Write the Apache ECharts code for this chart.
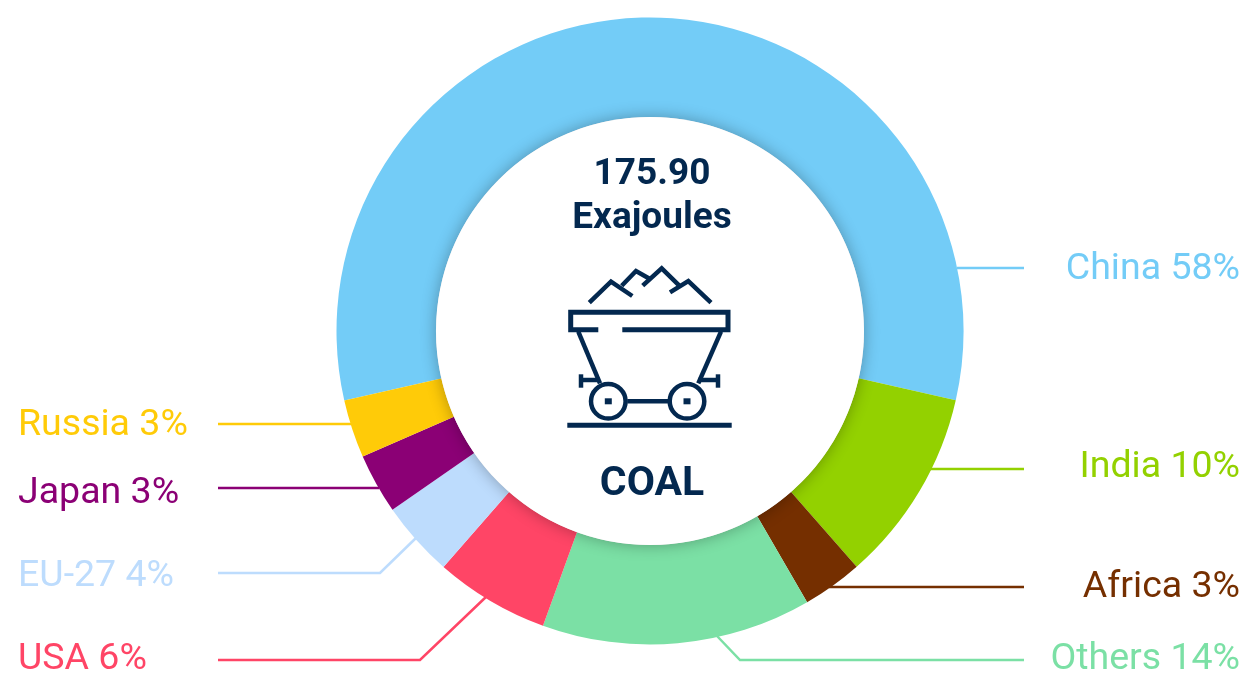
<!DOCTYPE html>
<html>
<head>
<meta charset="utf-8">
<title>Coal</title>
<script src="https://cdn.jsdelivr.net/npm/echarts@6/dist/echarts.min.js"></script>
<style>
  html, body { margin: 0; padding: 0; background: #fff; }
  #chart { width: 1246px; height: 674px; }
</style>
</head>
<body>
<div id="chart"></div>
<script>
var categories = ["China", "India", "Africa", "Others", "USA", "EU-27", "Japan", "Russia"];
var sliceValues = [57.1, 10, 3.1, 13.9, 5.9, 3.9, 3.1, 3];
var printedPercents = [58, 10, 3, 14, 6, 4, 3, 3];
var colors = ["#73ccf7", "#93d100", "#752f00", "#7be0a5", "#ff4566", "#bddcfd", "#8b0075", "#ffcb08"];
var totalText = "175.90";
var unitText = "Exajoules";
var fuelText = "COAL";

// label anchors, same order as categories
var labelX = [1240, 1240, 1240, 1240, 18, 18, 18, 18];
var labelY = [270, 468, 588, 660, 660, 577, 494, 426];
var leaderLines = [
  [[957, 268], [1024, 268]],
  [[930, 469], [1024, 469]],
  [[829, 587], [1024, 587]],
  [[717, 636], [740, 660], [1024, 660]],
  [[487, 596], [420, 660], [218, 660]],
  [[417, 537], [380, 573], [218, 573]],
  [[379, 488], [218, 488]],
  [[351, 424], [218, 424]],
];

var navy = "#03284f";
var FONT = "Roboto, sans-serif";
var TOP_Z = 10; // above the hub series

// mine cart icon
function iconLine(points, width) {
  return {
    type: "polyline",
    silent: true,
    z: TOP_Z,
    shape: { points: points },
    style: { fill: null, stroke: navy, lineWidth: width || 4.5 },
  };
}
function iconWheel(cx, cy) {
  return [
    {
      type: "circle",
      silent: true,
      z: TOP_Z,
      shape: { cx: cx, cy: cy, r: 17.3 },
      style: { fill: null, stroke: navy, lineWidth: 4.5 },
    },
    {
      type: "rect",
      silent: true,
      z: TOP_Z,
      shape: { x: cx - 3.5, y: cy - 3, width: 7, height: 6 },
      style: { fill: navy },
    },
  ];
}
var iconParts = [
  iconLine([[589.3, 302.7], [611, 281.7], [632.3, 296]]),
  iconLine([[621.7, 285.7], [636, 271], [650, 279]]),
  iconLine([[642.7, 285.7], [661.7, 268.3], [679.3, 285.7]]),
  iconLine([[670, 292.3], [688.3, 281], [711, 302.7]]),
  iconLine([[598.3, 329.7], [570.7, 329.7], [570.7, 312.3], [728, 312.3], [728, 329.7], [622.3, 329.7]], 5),
  iconLine([[578.3, 331.7], [600, 383.3]]),
  iconLine([[721, 331.7], [698.3, 383.3]]),
  iconLine([[581.7, 380], [600, 380]]),
  iconLine([[698.3, 380], [718.3, 380]]),
  iconLine([[581, 374.3], [581, 387.7]]),
  iconLine([[718, 374.3], [718, 387.7]]),
  iconLine([[627.3, 401.3], [668.3, 401.3]]),
  iconLine([[567.3, 425.3], [731.7, 425.3]], 5),
].concat(iconWheel(608.3, 401.3), iconWheel(687, 401.3));

function centerText(text, y, size) {
  return {
    type: "text",
    silent: true,
    z: TOP_Z,
    x: 652,
    y: y,
    style: {
      text: text,
      fill: navy,
      font: "700 " + size + "px " + FONT,
      align: "center",
      verticalAlign: "middle",
    },
  };
}

var chart = echarts.init(document.getElementById("chart"));
chart.setOption({
  animation: false,
  backgroundColor: "#fff",
  color: colors,
  tooltip: { show: false },
  series: [
    {
      type: "pie",
      center: [650, 331],
      radius: [214, 313.5],
      startAngle: 192.8,
      clockwise: true,
      silent: true,
      z: 2,
      data: categories.map(function (name, i) {
        return { name: name, value: sliceValues[i] };
      }),
      label: {
        show: true,
        color: "inherit",
        fontFamily: FONT,
        fontSize: 37.5,
        fontWeight: 400,
        formatter: function (p) {
          return p.name + " " + printedPercents[p.dataIndex] + "%";
        },
      },
      labelLine: { show: true, lineStyle: { width: 2.5 } },
      labelLayout: function (p) {
        var i = p.dataIndex;
        return {
          x: labelX[i],
          y: labelY[i],
          align: i < 4 ? "right" : "left",
          verticalAlign: "middle",
          labelLinePoints: leaderLines[i],
        };
      },
    },
    {
      // white hub, its shadow falls on the ring
      type: "pie",
      center: [650, 331],
      radius: [0, 214],
      silent: true,
      z: 3,
      label: { show: false },
      labelLine: { show: false },
      itemStyle: {
        color: "#fff",
        shadowBlur: 16,
        shadowColor: "rgba(0,0,0,0.3)",
      },
      data: [{ name: "hub", value: 1 }],
    },
  ],
  graphic: {
    elements: [
      centerText(totalText, 175, 37),
      centerText(unitText, 219, 37),
      centerText(fuelText, 485, 41),
    ].concat(iconParts),
  },
});
</script>
</body>
</html>
